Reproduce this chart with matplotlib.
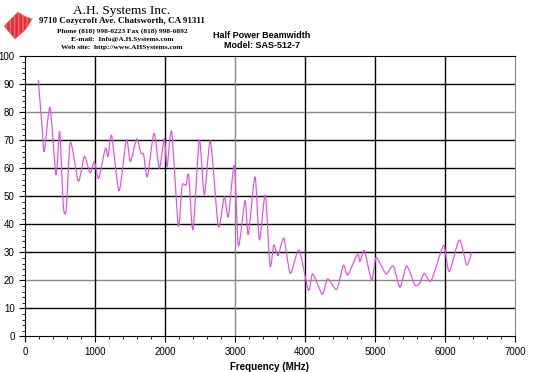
import matplotlib
matplotlib.use("Agg")
import matplotlib.pyplot as plt
from matplotlib.patches import Polygon, PathPatch
from matplotlib.path import Path
from matplotlib.ticker import MultipleLocator

# Half power beamwidth readings (frequency in MHz, beamwidth in degrees)
freq = [190, 247, 276, 357, 443, 495, 548, 590, 648, 762, 848, 929, 990, 1052,
        1148, 1186, 1238, 1343, 1448, 1505, 1595, 1657, 1695, 1748, 1843, 1919,
        1990, 2029, 2095, 2190, 2243, 2300, 2338, 2400, 2490, 2562, 2648, 2752,
        2790, 2848, 2905, 2990, 3048, 3143, 3190, 3286, 3348, 3433, 3500, 3555,
        3615, 3698, 3790, 3914, 4048, 4110, 4248, 4324, 4452, 4548, 4610, 4748,
        4786, 4848, 4952, 5014, 5119, 5167, 5262, 5357, 5452, 5571, 5640, 5705,
        5800, 5967, 6000, 6062, 6205, 6310, 6381]
beamwidth = [91.5, 73.7, 66.0, 81.8, 57.6, 73.2, 46.3, 45.6, 69.3, 55.4, 64.2,
             58.4, 62.4, 56.4, 67.1, 64.2, 71.7, 52.0, 70.2, 62.4, 70.5, 65.4,
             64.9, 57.0, 72.5, 60.0, 70.7, 60.6, 73.1, 39.4, 53.7, 54.0, 57.6,
             38.0, 70.1, 50.5, 69.8, 40.7, 41.0, 49.9, 42.7, 61.0, 32.3, 48.5,
             36.4, 57.0, 34.4, 50.5, 25.1, 32.6, 28.8, 35.0, 22.5, 30.8, 16.5,
             22.3, 15.0, 20.5, 16.8, 25.4, 21.9, 29.3, 26.7, 30.6, 20.1, 28.1,
             23.7, 22.3, 25.1, 17.5, 25.1, 18.3, 19.0, 22.5, 19.8, 32.0, 31.0,
             23.1, 34.4, 25.5, 30.0]


def smooth_path(xs, ys, k=0.12):
    # Excel-style smoothed line: cubic bezier through every point
    pts = list(zip(xs, ys))
    verts = [pts[0]]
    codes = [Path.MOVETO]
    n = len(pts)
    for i in range(n - 1):
        p0 = pts[max(i - 1, 0)]
        p1 = pts[i]
        p2 = pts[i + 1]
        p3 = pts[min(i + 2, n - 1)]
        c1 = (p1[0] + (p2[0] - p0[0]) * k, p1[1] + (p2[1] - p0[1]) * k)
        c2 = (p2[0] - (p3[0] - p1[0]) * k, p2[1] - (p3[1] - p1[1]) * k)
        verts += [c1, c2, p2]
        codes += [Path.CURVE4] * 3
    return Path(verts, codes)


fig = plt.figure(figsize=(5.5, 3.72), dpi=100)
ax = fig.add_axes([25 / 550, (372 - 336.3) / 372, 490 / 550, 280 / 372])

# grid, some lines appear grey in the original
for y in range(10, 100, 10):
    ax.axhline(y, color="#888888" if y in (20, 80) else "black", lw=1, zorder=1)
for x in range(1000, 7000, 1000):
    ax.axvline(x, color="#888888" if x == 3000 else "black", lw=1, zorder=1)

ax.add_patch(PathPatch(smooth_path(freq, beamwidth), facecolor="none",
                       edgecolor="#e050e0", lw=0.85, zorder=3))

ax.set_xlim(0, 7000)
ax.set_ylim(0, 100)
ax.xaxis.set_major_locator(MultipleLocator(1000))
ax.xaxis.set_minor_locator(MultipleLocator(200))
ax.yaxis.set_major_locator(MultipleLocator(10))
ax.yaxis.set_minor_locator(MultipleLocator(2))
ax.tick_params(which="both", direction="out", labelsize=7, color="black")
ax.tick_params(which="major", length=4)
ax.tick_params(which="minor", length=2)
for lab in ax.get_xticklabels() + ax.get_yticklabels():
    lab.set_fontfamily("Liberation Sans")
ax.spines["right"].set_color("#888888")
ax.set_xlabel("Frequency (MHz)", fontsize=7, fontweight="bold",
              fontfamily="Liberation Sans", labelpad=4)

# header logo (pixel coords, origin top-left)
logo_px = [[4, 26], [18, 12], [24, 16], [32, 19], [28, 26], [24, 31], [15, 39]]
logo = Polygon([[x / 550, 1 - y / 372] for x, y in logo_px], closed=True,
               transform=fig.transFigure, facecolor="#e0303a",
               edgecolor="#f07070", hatch="||||", lw=0.5)
fig.patches.append(logo)

serif = "Liberation Serif"
fig.text(122 / 550, 1 - 11 / 372, "A.H. Systems Inc.", fontsize=9.5,
         family=serif, ha="center", va="center")
fig.text(122 / 550, 1 - 21 / 372, "9710 Cozycroft Ave. Chatsworth, CA 91311",
         fontsize=6.5, family=serif, weight="bold", ha="center", va="center")
fig.text(122 / 550, 1 - 31 / 372, "Phone (818) 998-0223 Fax (818) 998-6892",
         fontsize=5.3, family=serif, weight="bold", ha="center", va="center")
fig.text(122 / 550, 1 - 40 / 372, "E-mail:  Info@A.H.Systems.com",
         fontsize=5.3, family=serif, weight="bold", ha="center", va="center")
fig.text(122 / 550, 1 - 48 / 372, "Web site:  http://www.AHSystems.com",
         fontsize=5.3, family=serif, weight="bold", ha="center", va="center")
fig.text(262 / 550, 1 - 35 / 372, "Half Power Beamwidth", fontsize=6.5,
         family="Liberation Sans", weight="bold", ha="center", va="center")
fig.text(262 / 550, 1 - 45 / 372, "Model: SAS-512-7", fontsize=6.5,
         family="Liberation Sans", weight="bold", ha="center", va="center")

fig.savefig("out.png", dpi=100)
